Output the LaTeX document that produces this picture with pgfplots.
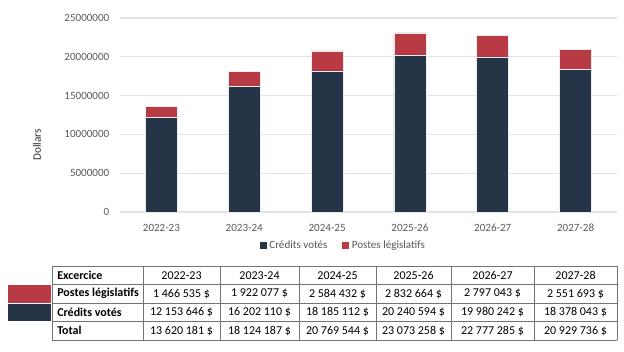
\documentclass[border=0pt]{standalone}
\usepackage{pgfplots}
\pgfplotsset{compat=1.18}
\usepackage{fontspec}
\setmainfont{Carlito}
\definecolor{navy}{HTML}{253447}
\definecolor{cred}{HTML}{B83A45}
\definecolor{tickgray}{HTML}{595959}
\definecolor{gridgray}{HTML}{E3E3E3}
\begin{document}
\begin{tikzpicture}
\path[use as bounding box] (0,0) rectangle (468pt,-263.25pt);
\begin{axis}[
  at={(90pt,-159pt)}, anchor=south west,
  scale only axis, width=372.75pt, height=145.5pt,
  ybar stacked, bar width=24pt,
  xmin=-0.5, xmax=5.5, ymin=0, ymax=25000000,
  xtick=data, xticklabels={2022-23,2023-24,2024-25,2025-26,2026-27,2027-28},
  ytick={0,5000000,10000000,15000000,20000000,25000000},
  scaled y ticks=false,
  axis line style={draw=none},
  major tick length=0pt,
  ymajorgrids, major grid style={gridgray, line width=0.8pt},
  /pgf/number format/assume math mode=true,
  y tick label style={/pgf/number format/.cd, fixed, 1000 sep={}, /tikz/.cd, font=\fontsize{8.3}{9}\selectfont, text=tickgray, xshift=-4.5pt},
  x tick label style={font=\fontsize{8.3}{9}\selectfont, text=tickgray, yshift=-5.5pt},
  legend style={at={(0.45,-0.175)}, anchor=center, draw=none, legend columns=2, font=\fontsize{8.3}{9}\selectfont, text=tickgray, /tikz/every even column/.append style={column sep=9pt}, inner sep=1pt},
  legend image code/.code={\fill[#1,draw=none] (0pt,-2.6pt) rectangle (5.2pt,2.6pt);},
]
\addplot[fill=navy, draw=white!85!gray, line width=0.4pt] coordinates {(0,12153646) (1,16202110) (2,18185112) (3,20240594) (4,19980242) (5,18378043)};
\addlegendentry{Crédits votés}
\addplot[fill=cred, draw=white!85!gray, line width=0.4pt] coordinates {(0,1466535) (1,1922077) (2,2584432) (3,2832664) (4,2797043) (5,2551693)};
\addlegendentry{Postes législatifs}
\end{axis}
\begin{scope}[x=0.75pt, y=-0.75pt]
\node[rotate=90, font=\fontsize{8.5}{9}\selectfont, text=black!80] at (37,145) {Dollars};
% swatches
\fill[cred] (8,285) rectangle (51,302.5);
\fill[navy] (8,303.5) rectangle (51,321);
% table grid
\def\colsx{52,143,220,299,376,451,534,617}
\foreach \xx in \colsx {\draw[black!55, line width=0.6pt] (\xx,266) -- (\xx,340);}
\foreach \yy in {266,284.5,303,321.5,340} {\draw[black!55, line width=0.6pt] (52,\yy) -- (617,\yy);}
\begin{scope}[every node/.style={font=\fontsize{9}{10}\selectfont, text=black, inner sep=0pt}]
\node[anchor=west, font=\fontsize{9}{10}\selectfont\bfseries] at (57,275.25) {Excercice};
\node[anchor=west, font=\fontsize{9}{10}\selectfont\bfseries] at (57,293.75) {Postes législatifs};
\node[anchor=west, font=\fontsize{9}{10}\selectfont\bfseries] at (57,312.25) {Crédits votés};
\node[anchor=west, font=\fontsize{9}{10}\selectfont\bfseries] at (57,330.75) {Total};
\foreach \cx/\a/\b/\c/\d in {
  181.5/2022-23/1 466 535 \$/12 153 646 \$/13 620 181 \$,
  259.5/2023-24/1 922 077 \$/16 202 110 \$/18 124 187 \$,
  337.5/2024-25/2 584 432 \$/18 185 112 \$/20 769 544 \$,
  413.5/2025-26/2 832 664 \$/20 240 594 \$/23 073 258 \$,
  492.5/2026-27/2 797 043 \$/19 980 242 \$/22 777 285 \$,
  575.5/2027-28/2 551 693 \$/18 378 043 \$/20 929 736 \$}
{
  \node at (\cx,275.25) {\a};
  \node at (\cx,293.75) {\b};
  \node at (\cx,312.25) {\c};
  \node at (\cx,330.75) {\d};
}
\end{scope}
\end{scope}
\end{tikzpicture}
\end{document}
